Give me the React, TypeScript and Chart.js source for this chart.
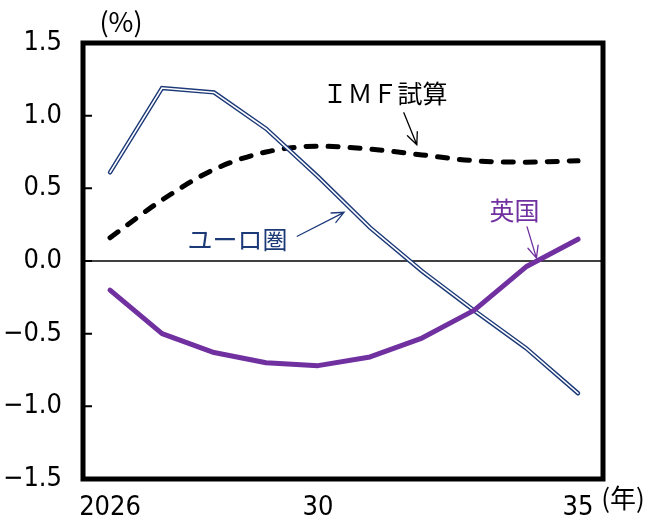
import React, { useEffect, useRef } from "react";
import { Chart, registerables } from "chart.js";

Chart.register(...registerables);

// Annual series, 2026–2035 (%)
const years = [2026, 2027, 2028, 2029, 2030, 2031, 2032, 2033, 2034, 2035];
const euroArea = [0.61, 1.19, 1.16, 0.91, 0.58, 0.23, -0.07, -0.34, -0.60, -0.91];
const imfEstimate = [0.16, 0.42, 0.63, 0.75, 0.79, 0.77, 0.73, 0.69, 0.68, 0.69];
const unitedKingdom = [-0.20, -0.50, -0.63, -0.70, -0.72, -0.66, -0.53, -0.34, -0.04, 0.15];

// Axis ticks
const yTicks = [-1.5, -1.0, -0.5, 0.0, 0.5, 1.0, 1.5];
const xTickYears = [2026, 2030, 2035];
const xTickLabels = ["2026", "30", "35"];

const NAVY = "#1d3a78";
const PURPLE = "#7030a0";
const NUM_FONT = "'Liberation Sans Narrow', 'DejaVu Sans Condensed', 'DejaVu Sans', sans-serif";
const JP_FONT = "'Noto Sans CJK JP', sans-serif";

function arrow(ctx: CanvasRenderingContext2D, x1: number, y1: number, x2: number, y2: number, color: string) {
  const ang = Math.atan2(y2 - y1, x2 - x1);
  const head = 13;
  const spread = 0.42;
  ctx.save();
  ctx.strokeStyle = color;
  ctx.lineWidth = 1.3;
  ctx.lineCap = "round";
  ctx.beginPath();
  ctx.moveTo(x1, y1);
  ctx.lineTo(x2, y2);
  ctx.moveTo(x2 - head * Math.cos(ang - spread), y2 - head * Math.sin(ang - spread));
  ctx.lineTo(x2, y2);
  ctx.lineTo(x2 - head * Math.cos(ang + spread), y2 - head * Math.sin(ang + spread));
  ctx.stroke();
  ctx.restore();
}

const framePlugin = {
  id: "frameAndNotes",
  beforeDatasetsDraw(chart: any) {
    const { ctx, chartArea, scales } = chart;
    const y0 = scales.y.getPixelForValue(0);
    ctx.save();
    ctx.strokeStyle = "#000";
    ctx.lineWidth = 1.5;
    ctx.beginPath();
    ctx.moveTo(chartArea.left, y0);
    ctx.lineTo(chartArea.right, y0);
    ctx.stroke();
    ctx.restore();
  },
  afterDatasetsDraw(chart: any) {
    const { ctx, chartArea, scales } = chart;
    const { left, top, right, bottom } = chartArea;
    const xs = scales.x;
    const ys = scales.y;
    ctx.save();
    // plot frame
    ctx.strokeStyle = "#000";
    ctx.lineWidth = 5;
    ctx.lineJoin = "miter";
    ctx.strokeRect(left, top, right - left, bottom - top);
    // inner tick marks on the value axis
    ctx.lineWidth = 2;
    ctx.beginPath();
    yTicks.forEach((v) => {
      const py = ys.getPixelForValue(v);
      ctx.moveTo(left, py);
      ctx.lineTo(left + 9, py);
    });
    ctx.stroke();

    // unit labels
    ctx.fillStyle = "#000";
    ctx.textAlign = "center";
    ctx.textBaseline = "middle";
    ctx.font = `27px ${JP_FONT}`;
    ctx.fillText("(%)", left + 38, top - 21);
    ctx.font = `26px ${JP_FONT}`;
    ctx.fillText("(年)", right + 20, bottom + 19);

    // series notes
    const P = (x: number, y: number) => [xs.getPixelForValue(x), ys.getPixelForValue(y)];
    ctx.font = `25px ${JP_FONT}`;

    let [tx, ty] = P(2031.29, 1.155);
    ctx.fillStyle = "#000";
    ctx.fillText("ＩＭＦ試算", tx, ty);
    let [a1, b1] = P(2031.65, 1.02);
    let [a2, b2] = P(2031.9, 0.8);
    arrow(ctx, a1, b1, a2, b2, "#000");

    [tx, ty] = P(2028.45, 0.145);
    ctx.fillStyle = NAVY;
    ctx.fillText("ユーロ圏", tx, ty);
    [a1, b1] = P(2029.6, 0.17);
    [a2, b2] = P(2030.5, 0.335);
    arrow(ctx, a1, b1, a2, b2, NAVY);

    [tx, ty] = P(2033.78, 0.35);
    ctx.fillStyle = PURPLE;
    ctx.fillText("英国", tx, ty);
    [a1, b1] = P(2034.02, 0.235);
    [a2, b2] = P(2034.2, 0.02);
    arrow(ctx, a1, b1, a2, b2, PURPLE);

    ctx.restore();
  },
};

export default function App() {
  const ref = useRef<HTMLCanvasElement>(null);

  useEffect(() => {
    const pts = (vals: number[]) => years.map((x, i) => ({ x, y: vals[i] }));
    const chart = new Chart(ref.current!, {
      type: "line",
      data: {
        datasets: [
          {
            label: "英国",
            data: pts(unitedKingdom),
            borderColor: PURPLE,
            borderWidth: 5,
            borderCapStyle: "round",
            borderJoinStyle: "round",
            pointRadius: 0,
            tension: 0,
            order: 0,
          },
          {
            label: "ユーロ圏 (inner)",
            data: pts(euroArea),
            borderColor: "#ffffff",
            borderWidth: 1.6,
            borderCapStyle: "round",
            borderJoinStyle: "miter",
            pointRadius: 0,
            tension: 0,
            order: 1,
          },
          {
            label: "ユーロ圏",
            data: pts(euroArea),
            borderColor: NAVY,
            borderWidth: 4.4,
            borderCapStyle: "round",
            borderJoinStyle: "miter",
            pointRadius: 0,
            tension: 0,
            order: 2,
          },
          {
            label: "ＩＭＦ試算",
            data: pts(imfEstimate),
            borderColor: "#000000",
            borderWidth: 5,
            borderDash: [10, 12],
            borderCapStyle: "round",
            pointRadius: 0,
            cubicInterpolationMode: "monotone",
            order: 3,
          },
        ],
      },
      options: {
        animation: false,
        responsive: false,
        events: [],
        layout: { padding: { top: 43, right: 46, left: 0, bottom: 0 } },
        plugins: { legend: { display: false }, tooltip: { enabled: false } },
        scales: {
          x: {
            type: "linear",
            min: 2025.48,
            max: 2035.48,
            afterBuildTicks: (s: any) => {
              s.ticks = xTickYears.map((value) => ({ value }));
            },
            afterFit: (s: any) => {
              s.height = 46;
            },
            ticks: {
              autoSkip: false,
              maxRotation: 0,
              padding: 13,
              color: "#000",
              font: { family: NUM_FONT, size: 27 },
              callback: (v: any) => {
                const i = xTickYears.indexOf(Number(v));
                return i >= 0 ? xTickLabels[i] : "";
              },
            },
            grid: { display: false, drawTicks: false },
            border: { display: false },
          },
          y: {
            type: "linear",
            min: -1.5,
            max: 1.5,
            afterBuildTicks: (s: any) => {
              s.ticks = yTicks.map((value) => ({ value }));
            },
            afterFit: (s: any) => {
              s.width = 83;
            },
            ticks: {
              padding: 21,
              color: "#000",
              font: { family: NUM_FONT, size: 27 },
              callback: (v: any) => {
                const n = Number(v);
                return (n < 0 ? "\u2212" : "") + Math.abs(n).toFixed(1);
              },
            },
            grid: { display: false, drawTicks: false },
            border: { display: false },
          },
        },
      },
      plugins: [framePlugin],
    } as any);
    return () => chart.destroy();
  }, []);

  return (
    <div style={{ position: "fixed", left: 0, top: 0, width: 649, height: 525, background: "#fff" }}>
      <canvas ref={ref} width={649} height={525} style={{ display: "block" }} />
    </div>
  );
}
